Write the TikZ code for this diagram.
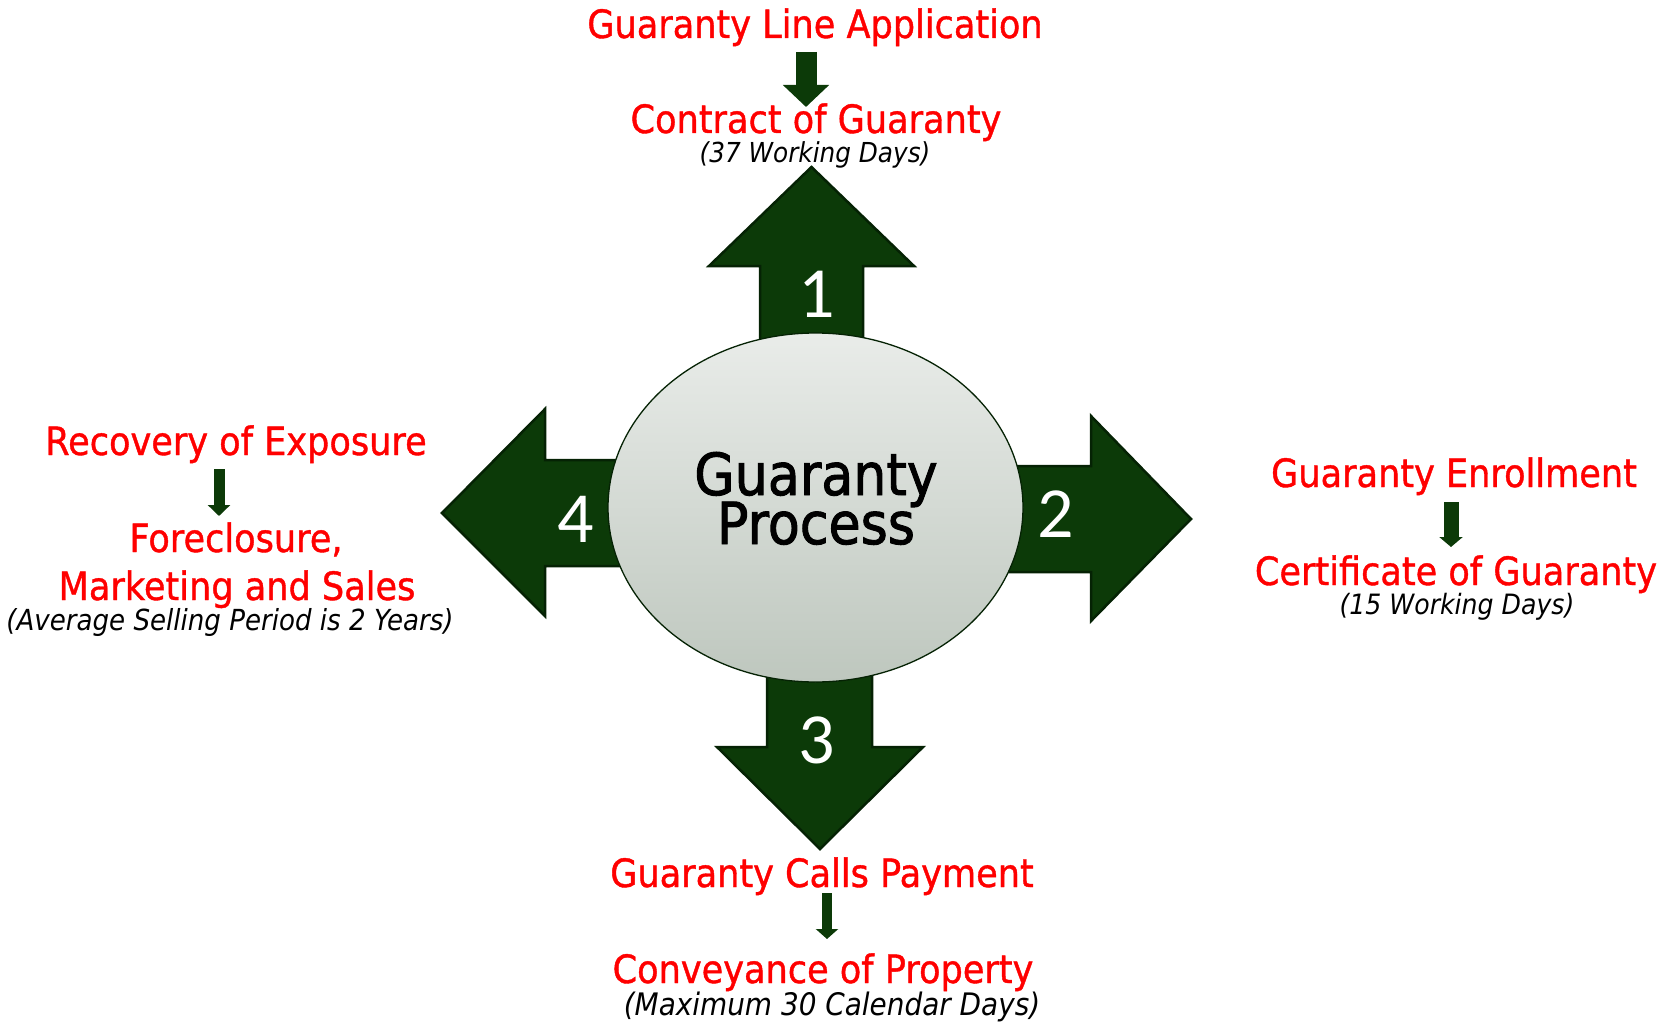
\documentclass[tikz,border=0pt]{standalone}
\usepackage{fontspec}
\setmainfont{DejaVu Sans}[FakeStretch=0.9]
\newfontfamily\heavyfont{DejaVu Sans}[FakeStretch=0.9, FakeBold=1.0]
\newfontfamily\centerfont{DejaVu Sans}[FakeStretch=0.9, FakeBold=1.6]
\newfontfamily\digitfont{Carlito}
\usetikzlibrary{shapes.geometric,arrows.meta}
\definecolor{arrowgreen}{RGB}{12,58,8}
\definecolor{arrowedge}{RGB}{5,34,4}
\definecolor{txtred}{RGB}{255,0,0}
\definecolor{elltop}{RGB}{233,236,233}
\definecolor{ellbot}{RGB}{190,199,190}
\tikzset{
  bigarrow/.style={fill=arrowgreen, draw=arrowedge, line width=2.5pt, line join=miter},
  redtxt/.style={text=txtred, font=\heavyfont\fontsize{39}{44}\selectfont, inner sep=0pt, anchor=base},
  notetxt/.style={text=black, font=\fontsize{27}{30}\selectfont\itshape, inner sep=0pt, anchor=base},
  numtxt/.style={text=white, font=\digitfont\fontsize{72}{80}\selectfont, inner sep=0pt, anchor=base},
  centertxt/.style={text=black, font=\centerfont\fontsize{58}{60}\selectfont, inner sep=0pt, anchor=base},
  miniarrow/.style={draw=arrowgreen, line cap=butt}
}
\begin{document}
\begin{tikzpicture}[x=1pt,y=-1pt]
\useasboundingbox (0,0) rectangle (1671,1022);
% big arrows
\path[bigarrow] (760,507) -- (760,266) -- (709,266) -- (811.5,167) -- (914,266) -- (863,266) -- (863,507) -- cycle;
\path[bigarrow] (815,466) -- (1091,466) -- (1091,416) -- (1191,519) -- (1091,621) -- (1091,572) -- (815,572) -- cycle;
\path[bigarrow] (767,507) -- (767,747) -- (717,747) -- (820,849) -- (923,747) -- (872,747) -- (872,507) -- cycle;
\path[bigarrow] (815,460) -- (545,460) -- (545,409) -- (442,513) -- (545,616) -- (545,566) -- (815,566) -- cycle;
% numbers
\node[numtxt] (n1) at (817,317) {1};
\node[numtxt] (n2) at (1056,537) {2};
\node[numtxt] (n3) at (817,763) {3};
\node[numtxt] (n4) at (576,542) {4};
% center ellipse
\node[ellipse, minimum width=415pt, minimum height=349pt, inner sep=0pt,
      top color=elltop, bottom color=ellbot, draw=arrowedge, line width=1.3pt] (gp) at (815.5,507.5) {};
\node[centertxt] (gp1) at (816,495) {Guaranty};
\node[centertxt] (gp2) at (816,544) {Process};
% top group
\node[redtxt] (t1) at (815,38) {Guaranty Line Application};
\node[redtxt] (t2) at (816,133) {Contract of Guaranty};
\node[notetxt, font=\fontsize{27.5}{30}\selectfont\itshape] (t3) at (815,163) {(37 Working Days)};
\coordinate (m1a) at (806,52);
\coordinate (m1b) at (806,107);
\draw[miniarrow, line width=21pt, -{Triangle[width=45pt,length=22pt]}] (m1a) -- (m1b);
% right group
\node[redtxt] (r1) at (1454,487) {Guaranty Enrollment};
\node[redtxt] (r2) at (1456,585) {Certificate of Guaranty};
\node[notetxt, font=\fontsize{28}{30}\selectfont\itshape] (r3) at (1457,614) {(15 Working Days)};
\coordinate (m2a) at (1451,502);
\coordinate (m2b) at (1451,547);
\draw[miniarrow, line width=15pt, -{Triangle[width=23pt,length=10pt]}] (m2a) -- (m2b);
% bottom group
\node[redtxt] (b1) at (822,887) {Guaranty Calls Payment};
\node[redtxt] (b2) at (823,983) {Conveyance of Property};
\node[notetxt, font=\fontsize{31}{33}\selectfont\itshape] (b3) at (832,1015) {(Maximum 30 Calendar Days)};
\coordinate (m3a) at (827,893);
\coordinate (m3b) at (827,939);
\draw[miniarrow, line width=10pt, -{Triangle[width=22pt,length=10pt]}] (m3a) -- (m3b);
% left group
\node[redtxt] (l1) at (236,455) {Recovery of Exposure};
\node[redtxt] (l2) at (236,552) {Foreclosure,};
\node[redtxt] (l3) at (237,600) {Marketing and Sales};
\node[notetxt, font=\fontsize{29}{31}\selectfont\itshape] (l4) at (230,630) {(Average Selling Period is 2 Years)};
\coordinate (m4a) at (219,469);
\coordinate (m4b) at (219,516);
\draw[miniarrow, line width=11pt, -{Triangle[width=22pt,length=11pt]}] (m4a) -- (m4b);
\end{tikzpicture}
\end{document}
